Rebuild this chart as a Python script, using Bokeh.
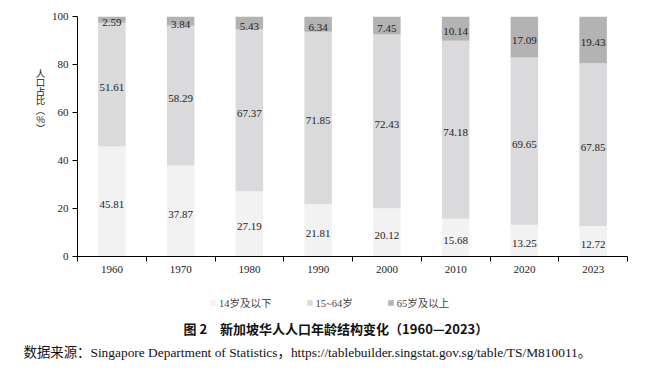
import numpy as np
from bokeh.plotting import figure
from bokeh.layouts import column, row
from bokeh.models import Range1d, FixedTicker, Label, Legend, LegendItem, ColumnDataSource
from bokeh.core.properties import value
from bokeh.embed import file_html
from bokeh.resources import INLINE

years = ["1960", "1970", "1980", "1990", "2000", "2010", "2020", "2023"]
age_0_14 = [45.81, 37.87, 27.19, 21.81, 20.12, 15.68, 13.25, 12.72]
age_15_64 = [51.61, 58.29, 67.37, 71.85, 72.43, 74.18, 69.65, 67.85]
age_65_up = [2.59, 3.84, 5.43, 6.34, 7.45, 10.14, 17.09, 19.43]
series_names = ["14岁及以下", "15~64岁", "65岁及以上"]
colors = ["#f2f2f2", "#dadadc", "#b3b3b3"]
y_ticks = [0, 20, 40, 60, 80, 100]
y_title = "人口占比︵%︶"
fig_title = "图 2\u3000新加坡华人人口年龄结构变化（1960—2023）"
source_note = "数据来源：Singapore Department of Statistics，https://tablebuilder.singstat.gov.sg/table/TS/M810011。"

SERIF = "Liberation Serif, Noto Sans CJK SC"
CJK = "Noto Sans CJK SC"

W, H = 654, 377
TOP_H = 285
YLAB_W = 48
FRAME_BOTTOM = 256

n = len(years)
xc = np.arange(n) + 0.5
src = ColumnDataSource(dict(x=xc, a=age_0_14, b=age_15_64, c=age_65_up))

# ---- main chart ----
p = figure(width=W - YLAB_W, height=TOP_H, output_backend="svg", toolbar_location=None,
           x_range=Range1d(0, n), y_range=Range1d(0, 100),
           min_border_left=74 - YLAB_W, min_border_right=27, min_border_top=16,
           min_border_bottom=TOP_H - FRAME_BOTTOM)
p.outline_line_color = None
p.xgrid.visible = False
p.ygrid.visible = False

rs = p.vbar_stack(["a", "b", "c"], x="x", width=0.4, color=colors, line_color=None, source=src)

vals = [np.array(age_0_14), np.array(age_15_64), np.array(age_65_up)]
bottom = np.zeros(n)
for v in vals:
    mid = bottom + v / 2
    s = ColumnDataSource(dict(x=xc, y=mid, t=[f"{q:.2f}" for q in v]))
    p.text(x="x", y="y", text="t", source=s, text_align="center", text_baseline="middle",
           y_offset=3, text_font=value(SERIF), text_font_size="11px", text_color="#222222")
    bottom = bottom + v

xa = p.xaxis[0]
xa.ticker = FixedTicker(ticks=list(xc), minor_ticks=list(range(n + 1)))
xa.major_label_overrides = {float(x): y for x, y in zip(xc, years)}
xa.major_tick_out = 0
xa.major_tick_in = 0
xa.minor_tick_out = 5
xa.minor_tick_in = 0
xa.minor_tick_line_color = "black"
xa.axis_line_color = "black"
xa.major_label_text_font = SERIF
xa.major_label_text_font_size = "11px"
xa.major_label_text_color = "#222222"
xa.major_label_standoff = 4

ya = p.yaxis[0]
ya.ticker = FixedTicker(ticks=y_ticks, minor_ticks=[])
ya.major_tick_out = 5
ya.major_tick_in = 0
ya.axis_line_color = "black"
ya.major_label_text_font = SERIF
ya.major_label_text_font_size = "11px"
ya.major_label_text_color = "#222222"
ya.major_label_standoff = 4

# ---- y title strip (upright stacked characters); its frame is aligned with the chart frame ----
pl = figure(width=YLAB_W, height=TOP_H, output_backend="svg", toolbar_location=None,
            x_axis_location=None, y_axis_location=None, min_border=0,
            x_range=Range1d(0, 1), y_range=Range1d(0, 1))
pl.outline_line_color = None
pl.grid.visible = False
for i, ch in enumerate(y_title):
    pl.add_layout(Label(x=40, y=FRAME_BOTTOM - (72 + 9.3 * i), x_units="screen", y_units="screen",
                        text=ch, text_font=CJK, text_font_size="9.5px", text_align="center",
                        text_baseline="middle", text_color="#222222"))

# ---- footer: legend, caption, source ----
FOOT_H = H - TOP_H
pf = figure(width=W, height=FOOT_H, output_backend="svg", toolbar_location=None,
            x_axis_location=None, y_axis_location=None, min_border=0,
            x_range=Range1d(0, 1), y_range=Range1d(0, 1))
pf.outline_line_color = None
pf.grid.visible = False
# zero-size swatch renderers, only used to give the legend its colour keys
swatches = [pf.vbar(x=[0], top=[0], bottom=[0], width=0, color=c, line_color=None) for c in colors]
legend = Legend(items=[LegendItem(label=nm, renderers=[r]) for nm, r in zip(series_names, swatches)],
                orientation="horizontal", location=(209, H - 310),
                glyph_width=7, glyph_height=7, label_text_font=SERIF,
                label_text_font_size="10.5px", spacing=34, label_standoff=3, label_height=12,
                background_fill_alpha=0, border_line_color=None, padding=0, margin=0)
pf.add_layout(legend, "center")
pf.add_layout(Label(x=183, y=H - 328, x_units="screen", y_units="screen", text=fig_title,
                    text_font=CJK, text_font_size="13px", text_font_style="bold",
                    text_align="left", text_baseline="middle", text_color="#111111"))
pf.add_layout(Label(x=23, y=H - 352, x_units="screen", y_units="screen", text=source_note,
                    text_font=SERIF, text_font_size="13.4px",
                    text_align="left", text_baseline="middle", text_color="#111111"))

layout = column(row(pl, p, spacing=0), pf, spacing=0)
open("out.html", "w").write(file_html(layout, INLINE))
